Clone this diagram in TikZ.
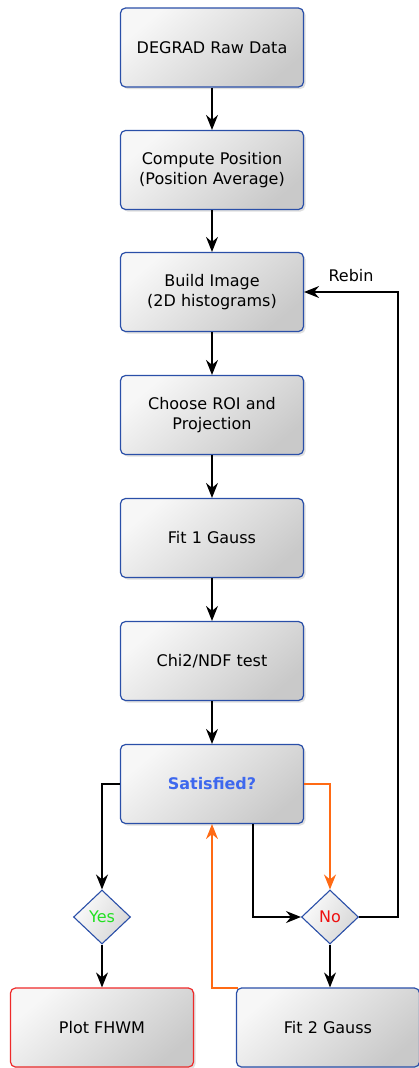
\documentclass[tikz,border=0pt]{standalone}
\usepackage{fontspec}
\setmainfont{DejaVu Sans}
\usetikzlibrary{shapes.geometric,arrows.meta,shadows}
\definecolor{bblue}{HTML}{2A4FA8}
\definecolor{bred}{HTML}{EE2A2A}
\definecolor{orng}{HTML}{FF6A14}
\definecolor{tblue}{HTML}{3E68EE}
\definecolor{tgreen}{HTML}{22E022}
\definecolor{tred}{HTML}{EE1010}
\begin{document}
\begin{tikzpicture}[x=1pt,y=-1pt,
  font=\fontsize{16}{19.5}\selectfont,
  box/.style={draw=bblue, line width=1.2pt, rounded corners=5pt,
    minimum width=183pt, minimum height=79pt, inner sep=0pt, align=center,
    top color=gray!6, bottom color=gray!42, shading angle=40,
    drop shadow={opacity=0.25, shadow xshift=2pt, shadow yshift=-2pt}},
  dia/.style={diamond, draw=bblue, line width=1.1pt, minimum width=57pt,
    minimum height=54pt, inner sep=0pt,
    top color=gray!3, bottom color=gray!32, shading angle=60},
  arr/.style={line width=1.3pt, -{Stealth[length=15pt,width=12pt,inset=5pt]}},
  oarr/.style={arr, draw=orng, color=orng}
]
\useasboundingbox (0,0) rectangle (419,1068);
\node[box] (b1) at (212,47.5) {DEGRAD Raw Data};
\node[box] (b2) at (212,170) {Compute Position\\(Position Average)};
\node[box] (b3) at (212,292) {Build Image\\(2D histograms)};
\node[box] (b4) at (212,415) {Choose ROI and\\Projection};
\node[box] (b5) at (212,538) {Fit 1 Gauss};
\node[box] (b6) at (212,661) {Chi2/NDF test};
\node[box, font=\fontsize{16}{19.5}\selectfont\bfseries, text=tblue] (b7) at (212,784) {Satisfied?};
\node[dia, text=tgreen] (yes) at (102,917) {Yes};
\node[dia, text=tred] (no) at (330,917) {No};
\node[box, draw=bred] (plot) at (102,1027.5) {Plot FHWM};
\node[box] (fit2) at (328,1027.5) {Fit 2 Gauss};
\coordinate (fit2tl) at (238,988);

\draw[arr] (b1) -- (b2);
\draw[arr] (b2) -- (b3);
\draw[arr] (b3) -- (b4);
\draw[arr] (b4) -- (b5);
\draw[arr] (b5) -- (b6);
\draw[arr] (b6) -- (b7);
\draw[arr] (b7.west) -| (yes.north);
\draw[arr] (yes) -- (plot.north -| yes);
\draw[arr] (b7.south -| 253,0) |- (no.west);
\draw[oarr] (b7.east) -| (no.north);
\draw[arr] (no) -- (fit2.north -| no);
\draw[arr] (no.east) -- (398,917) |- (b3.east) node[pos=0.75, above=6pt, black] {Rebin};
\draw[oarr] (fit2tl) -| (b7.south);
\end{tikzpicture}
\end{document}
